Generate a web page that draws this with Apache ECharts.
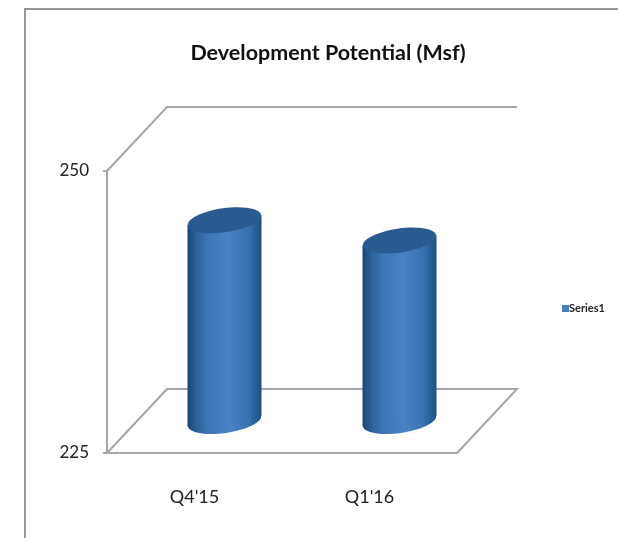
<!DOCTYPE html>
<html>
<head>
<meta charset="utf-8">
<style>html,body{margin:0;padding:0;background:#fff}#c{width:618px;height:538px}</style>
<script src="https://cdn.jsdelivr.net/npm/echarts@6/dist/echarts.min.js"></script>
</head>
<body>
<div id="c"></div>
<script>
const chartTitle = "Development Potential (Msf)";
const categories = ["Q4'15", "Q1'16"];
const seriesName = "Series1";
const seriesValues = [242.8, 241.0];
const axisMin = 225;
const axisMax = 250;

const FONT = "Lato, 'Open Sans', sans-serif";
const DEPTH_X = 60, DEPTH_Y = 64;
const RADIUS = 37, MINOR = 12, TILT = 0.14, SLANT = 5;
const LINE = '#a6a6a6';
const sideFill = {type:'linear',x:0,y:0,x2:1,y2:0,colorStops:[
  {offset:0,color:'#174675'},{offset:0.12,color:'#2c6299'},{offset:0.28,color:'#3d77b7'},
  {offset:0.55,color:'#4a82c5'},{offset:0.82,color:'#3872b0'},{offset:1,color:'#1c4f84'}]};

function renderFrame(params, api) {
  const band = api.size([1, 0])[0];
  const left = api.coord([0, axisMin])[0] - band / 2;
  const right = api.coord([categories.length - 1, axisMin])[0] + band / 2;
  const bottom = api.coord([0, axisMin])[1];
  const top = api.coord([0, axisMax])[1];
  const style = {fill:'none', stroke:LINE, lineWidth:2};
  return {type:'group', children:[
    {type:'polyline', shape:{points:[[left,bottom],[left+DEPTH_X,bottom-DEPTH_Y],[right+DEPTH_X,bottom-DEPTH_Y],[right,bottom]]}, style},
    {type:'polyline', shape:{points:[[left,top],[left+DEPTH_X,top-DEPTH_Y],[right+DEPTH_X,top-DEPTH_Y]]}, style}
  ]};
}

function renderCylinder(params, api) {
  const p = api.coord([api.value(0), api.value(1)]);
  const base = api.coord([api.value(0), axisMin]);
  const cx = p[0] + DEPTH_X / 2;
  const ty = p[1] - DEPTH_Y / 2;
  const by = base[1] - DEPTH_Y / 2;
  const ellipse = (y, fill) => ({type:'ellipse', x:cx, y:y, rotation:TILT,
    shape:{cx:0, cy:0, rx:RADIUS, ry:MINOR}, style:{fill:fill}});
  return {type:'group', children:[
    ellipse(by, sideFill),
    {type:'polygon', shape:{points:[[cx-RADIUS,ty+SLANT],[cx+RADIUS,ty-SLANT],[cx+RADIUS,by-SLANT],[cx-RADIUS,by+SLANT]]}, style:{fill:sideFill}},
    ellipse(ty, '#295b90')
  ]};
}

const chart = echarts.init(document.getElementById('c'), null, {renderer:'canvas'});
chart.setOption({
  animation:false,
  backgroundColor:'#ffffff',
  title:{text:chartTitle, left:323, top:37, textAlign:'center',
    textStyle:{fontFamily:FONT, fontSize:21.5, fontWeight:'bold', color:'#111111'}},
  legend:{data:[seriesName], left:557, top:298, itemWidth:7, itemHeight:7, itemGap:2,
    icon:'rect', textStyle:{fontFamily:FONT, fontSize:11, fontWeight:'bold', color:'#222222', padding:[0,0,0,-5]}},
  grid:{left:107, right:161, top:171, bottom:85},
  xAxis:{type:'category', data:categories,
    axisLine:{lineStyle:{color:LINE,width:2}}, axisTick:{show:false},
    axisLabel:{margin:35, fontFamily:FONT, fontSize:18, color:'#222222'}},
  yAxis:{type:'value', min:axisMin, max:axisMax, interval:axisMax-axisMin,
    axisLine:{show:true, lineStyle:{color:LINE,width:2}},
    axisTick:{show:true, length:4, lineStyle:{color:LINE,width:2}},
    splitLine:{show:false},
    axisLabel:{margin:18, fontFamily:FONT, fontSize:17, color:'#222222'}},
  graphic:[
    {type:'polyline', silent:true, z:-1, shape:{points:[[25,538],[25,9],[618,9]]}, style:{fill:'none',stroke:'#979797',lineWidth:2}}
  ],
  series:[
    {type:'custom', name:'frame', silent:true, z:1, clip:false, data:[[0,axisMin]], renderItem:renderFrame, encode:{x:0,y:1}},
    {type:'custom', name:seriesName, z:3, clip:false, itemStyle:{color:'#4a7ebb'},
     data:categories.map((c,i)=>[i,seriesValues[i]]), renderItem:renderCylinder, encode:{x:0,y:1}}
  ]
});
</script>
</body>
</html>
